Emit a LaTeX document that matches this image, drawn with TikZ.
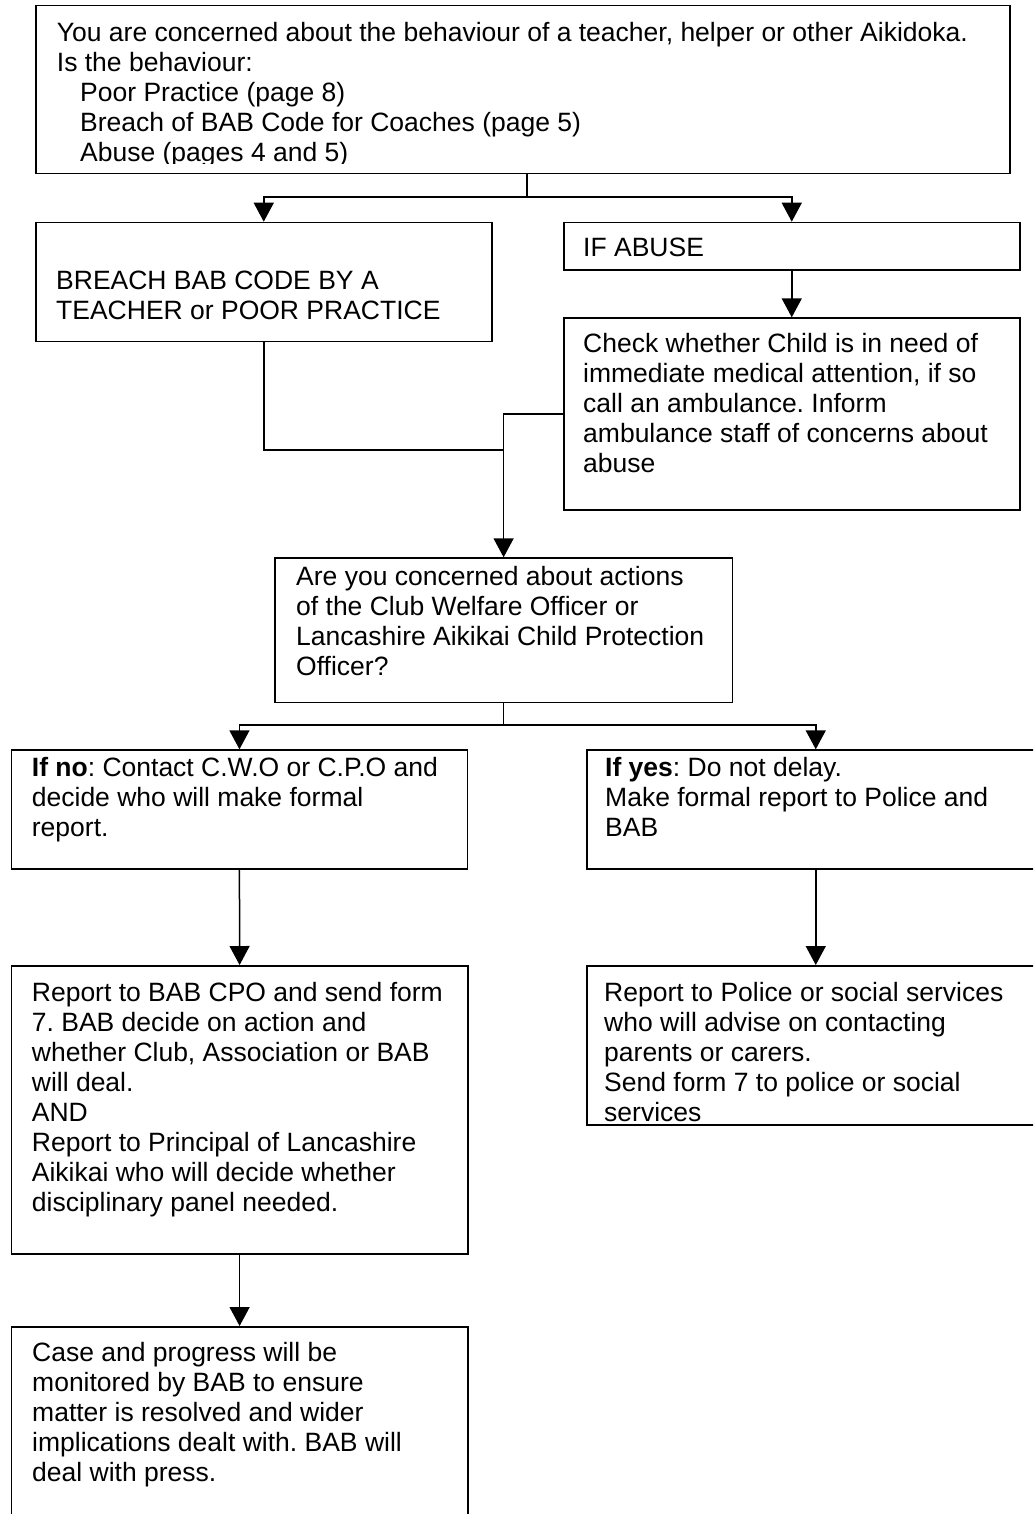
\documentclass[tikz,border=0pt]{standalone}
\usepackage{fontspec}
\setmainfont{Liberation Sans}
\usetikzlibrary{arrows.meta}
\frenchspacing
\tikzset{
  box/.style={draw, line width=1.5pt, inner sep=0pt, anchor=north west},
  txt/.style={inner sep=0pt, anchor=base west, font=\fontsize{26.5}{30}\selectfont\frenchspacing},
  link/.style={line width=1.5pt},
  arr/.style={link, -{Triangle[width=20pt,length=19pt]}},
}
\newcommand\tl[1]{\begin{tabular}[t]{@{}l@{}}#1\end{tabular}}
\newcommand\mkbox[5]{\node[box, minimum width=#4pt, minimum height=#5pt] (#1) at (#2,#3) {};}
\begin{document}
\begin{tikzpicture}[x=1pt,y=-1pt]
\useasboundingbox (0,0) rectangle (1033,1514);
\fill[white] (0,0) rectangle (1033,1514);
\clip (0,0) rectangle (1033,1514);
% boxes
\mkbox{top}{35}{5}{974}{168}
\mkbox{breach}{35}{221.7}{456}{119}
\mkbox{ifabuse}{563}{221.7}{456}{47.3}
\mkbox{check}{563}{317.3}{456}{191.7}
\mkbox{areyou}{274}{557.3}{457.7}{144.4}
\mkbox{ifno}{10.7}{749.3}{456}{119}
\mkbox{ifyes}{586}{749.3}{458}{119}
\mkbox{reportbab}{10.7}{965}{456.3}{288}
\mkbox{reportpolice}{586}{965}{458}{159.3}
\mkbox{case}{10.7}{1326}{456.3}{220}
% texts
\begin{scope}
\clip (35,5) rectangle (1009,163.5);
\node[txt] (toptext) at (56.7,41.7) {\tl{You are concerned about the behaviour of a teacher, helper or other Aikidoka.\\
Is the behaviour:\\
\hspace*{23.3pt}Poor Practice (page 8)\\
\hspace*{23.3pt}Breach of BAB Code for Coaches (page 5)\\
\hspace*{23.3pt}Abuse (pages 4 and 5)}};
\end{scope}
\node[txt] (breachtext) at (56,289) {\tl{BREACH BAB CODE BY A\\TEACHER or POOR PRACTICE}};
\node[txt] (ifabusetext) at (583,256.7) {\tl{IF ABUSE}};
\node[txt] (checktext) at (583,352.7) {\tl{Check whether Child is in need of\\
immediate medical attention, if so\\
call an ambulance. Inform\\
ambulance staff of concerns about\\
abuse}};
\node[txt] (areyoutext) at (296,585) {\tl{Are you concerned about actions\\
of the Club Welfare Officer or\\
Lancashire Aikikai Child Protection\\
Officer?}};
\node[txt] (ifnotext) at (31.7,776) {\tl{\textbf{If no}: Contact C.W.O or C.P.O and\\
decide who will make formal\\
report.}};
\node[txt] (ifyestext) at (605,776) {\tl{\textbf{If yes}: Do not delay.\\
Make formal report to Police and\\
BAB}};
\node[txt] (reportbabtext) at (31.7,1001) {\tl{Report to BAB CPO and send form\\
7. BAB decide on action and\\
whether Club, Association or BAB\\
will deal.\\
AND\\
Report to Principal of Lancashire\\
Aikikai who will decide whether\\
disciplinary panel needed.}};
\node[txt] (reportpolicetext) at (604,1001) {\tl{Report to Police or social services\\
who will advise on contacting\\
parents or carers.\\
Send form 7 to police or social\\
services}};
\node[txt] (casetext) at (32,1361.7) {\tl{Case and progress will be\\
monitored by BAB to ensure\\
matter is resolved and wider\\
implications dealt with. BAB will\\
deal with press.}};
% connectors
\coordinate (f1) at (527,197);
\draw[link] (top.south -| f1) -- (f1);
\draw[arr] (f1) -| (breach.north);
\draw[arr] (f1) -| (ifabuse.north);
\draw[arr] (ifabuse.south) -- (check.north);
\path (breach.south) ++(0,108) coordinate (j0);
\draw[link] (breach.south) -- (j0) -- (j0 -| areyou.north);
\draw[arr] (check.west) -| (areyou.north);
\path (areyou.south) ++(0,22) coordinate (f2);
\draw[link] (areyou.south) -- (f2);
\draw[arr] (f2) -| (ifno.north);
\draw[arr] (f2) -| (ifyes.north);
\draw[arr] (ifno.south) -- (reportbab.north);
\draw[arr] (ifyes.south) -- (reportpolice.north);
\draw[arr] (reportbab.south) -- (case.north);
\end{tikzpicture}
\end{document}
